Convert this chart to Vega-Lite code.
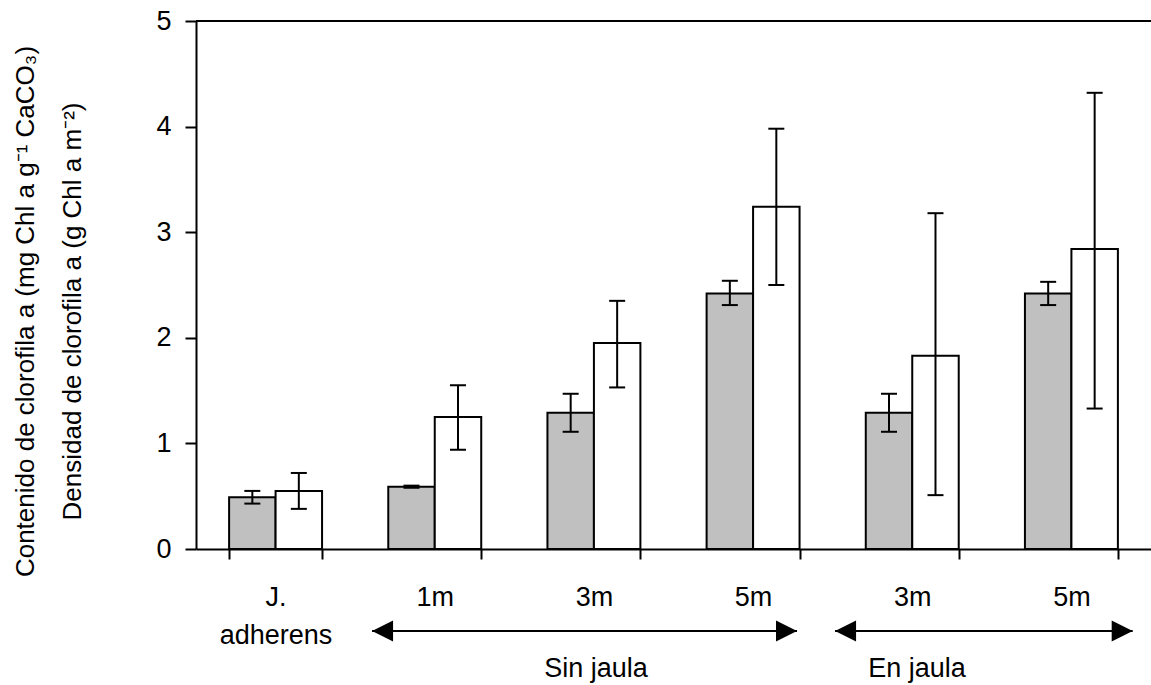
{
  "$schema": "https://vega.github.io/schema/vega-lite/v6.json",
  "width": 955,
  "height": 528,
  "autosize": {"type": "none"},
  "padding": {"left": 196, "top": 21, "right": 0, "bottom": 136},
  "config": {"font": "Liberation Sans", "view": {"stroke": null}},
  "datasets": {
    "barras": [
      {"grupo": "J. adherens", "serie": "Contenido", "valor": 0.49, "lo": 0.43, "hi": 0.55},
      {"grupo": "J. adherens", "serie": "Densidad", "valor": 0.55, "lo": 0.38, "hi": 0.72},
      {"grupo": "Sin jaula 1m", "serie": "Contenido", "valor": 0.59, "lo": 0.58, "hi": 0.60},
      {"grupo": "Sin jaula 1m", "serie": "Densidad", "valor": 1.25, "lo": 0.94, "hi": 1.55},
      {"grupo": "Sin jaula 3m", "serie": "Contenido", "valor": 1.29, "lo": 1.11, "hi": 1.47},
      {"grupo": "Sin jaula 3m", "serie": "Densidad", "valor": 1.95, "lo": 1.53, "hi": 2.35},
      {"grupo": "Sin jaula 5m", "serie": "Contenido", "valor": 2.42, "lo": 2.31, "hi": 2.54},
      {"grupo": "Sin jaula 5m", "serie": "Densidad", "valor": 3.24, "lo": 2.50, "hi": 3.98},
      {"grupo": "En jaula 3m", "serie": "Contenido", "valor": 1.29, "lo": 1.11, "hi": 1.47},
      {"grupo": "En jaula 3m", "serie": "Densidad", "valor": 1.83, "lo": 0.51, "hi": 3.18},
      {"grupo": "En jaula 5m", "serie": "Contenido", "valor": 2.42, "lo": 2.31, "hi": 2.53},
      {"grupo": "En jaula 5m", "serie": "Densidad", "valor": 2.84, "lo": 1.33, "hi": 4.32}
    ],
    "flechas": [
      {"tratamiento": "Sin jaula", "desde": 1.106, "hasta": 3.776, "nivel": -0.777, "centro": 2.513, "nivelTexto": -1.215},
      {"tratamiento": "En jaula", "desde": 4.015, "hasta": 5.885, "nivel": -0.777, "centro": 4.53, "nivelTexto": -1.215}
    ]
  },
  "layer": [
    {
      "data": {"name": "barras"},
      "encoding": {
        "x": {
          "field": "grupo",
          "type": "nominal",
          "sort": null,
          "scale": {
            "domain": ["J. adherens", "Sin jaula 1m", "Sin jaula 3m", "Sin jaula 5m", "En jaula 3m", "En jaula 5m"],
            "paddingInner": 0.416,
            "paddingOuter": 0.208
          },
          "axis": {
            "title": null,
            "labelAngle": 0,
            "labelExpr": "datum.label == 'J. adherens' ? ['J.', 'adherens'] : slice(datum.label, -2)",
            "labelFontSize": 27,
            "labelColor": "black",
            "labelBaseline": "alphabetic",
            "labelLineHeight": 38,
            "labelPadding": 46,
            "tickBand": "extent",
            "tickSize": 10,
            "tickWidth": 2,
            "tickColor": "black",
            "domainColor": "black",
            "domainWidth": 2
          }
        },
        "y": {
          "type": "quantitative",
          "scale": {"domain": [0, 5], "nice": false, "zero": false},
          "axis": {
            "values": [0, 1, 2, 3, 4, 5],
            "grid": false,
            "labelFontSize": 27,
            "labelColor": "black",
            "labelPadding": 14,
            "tickSize": 11,
            "tickWidth": 2,
            "tickColor": "black",
            "domainColor": "black",
            "domainWidth": 2,
            "title": ["Contenido de clorofila a (mg Chl a g⁻¹ CaCO₃)", "Densidad de clorofila a (g Chl a m⁻²)"],
            "titleFontSize": 26,
            "titleFontWeight": "normal",
            "titleColor": "black",
            "titleAngle": -90,
            "titleAlign": "center",
            "titleBaseline": "alphabetic",
            "titleLineHeight": 47,
            "titleX": -163,
            "titleY": 290
          }
        }
      },
      "layer": [
        {
          "mark": {"type": "bar", "stroke": "black", "strokeWidth": 2},
          "encoding": {
            "y": {"field": "valor", "type": "quantitative"},
            "xOffset": {"field": "serie", "type": "nominal", "scale": {"domain": ["Contenido", "Densidad"], "paddingInner": 0, "paddingOuter": 0}},
            "color": {"field": "serie", "type": "nominal", "scale": {"domain": ["Contenido", "Densidad"], "range": ["#C0C0C0", "#FFFFFF"]}, "legend": null}
          }
        },
        {
          "mark": {"type": "rule", "color": "black", "strokeWidth": 2},
          "encoding": {
            "y": {"field": "lo", "type": "quantitative"},
            "y2": {"field": "hi"},
            "xOffset": {"field": "serie", "type": "nominal", "scale": {"domain": ["Contenido", "Densidad"], "paddingInner": 0, "paddingOuter": 0}}
          }
        },
        {
          "mark": {"type": "tick", "orient": "horizontal", "color": "black", "size": 16, "thickness": 2, "opacity": 1},
          "encoding": {
            "y": {"field": "lo", "type": "quantitative"},
            "xOffset": {"field": "serie", "type": "nominal", "scale": {"domain": ["Contenido", "Densidad"], "paddingInner": 0, "paddingOuter": 0}}
          }
        },
        {
          "mark": {"type": "tick", "orient": "horizontal", "color": "black", "size": 16, "thickness": 2, "opacity": 1},
          "encoding": {
            "y": {"field": "hi", "type": "quantitative"},
            "xOffset": {"field": "serie", "type": "nominal", "scale": {"domain": ["Contenido", "Densidad"], "paddingInner": 0, "paddingOuter": 0}}
          }
        },
        {
          "mark": {"type": "rule", "color": "black", "strokeWidth": 2},
          "encoding": {"x": {"value": 0}, "x2": {"value": 955}, "y": {"datum": 5}}
        }
      ]
    },
    {
      "data": {"name": "flechas"},
      "encoding": {
        "y": {"type": "quantitative", "scale": {"domain": [0, 5], "nice": false, "zero": false}, "axis": null}
      },
      "layer": [
        {
          "mark": {"type": "rule", "color": "black", "strokeWidth": 2},
          "encoding": {
            "x": {"field": "desde", "type": "quantitative", "scale": {"domain": [0, 6], "nice": false, "zero": false}, "axis": null},
            "x2": {"field": "hasta"},
            "y": {"field": "nivel", "type": "quantitative"}
          }
        },
        {
          "mark": {"type": "point", "shape": "M0,0L2,-1L2,1Z", "filled": true, "fill": "black", "strokeWidth": 0, "size": 441, "opacity": 1},
          "encoding": {
            "x": {"field": "desde", "type": "quantitative", "scale": {"domain": [0, 6], "nice": false, "zero": false}, "axis": null},
            "y": {"field": "nivel", "type": "quantitative"}
          }
        },
        {
          "mark": {"type": "point", "shape": "M0,0L-2,-1L-2,1Z", "filled": true, "fill": "black", "strokeWidth": 0, "size": 441, "opacity": 1},
          "encoding": {
            "x": {"field": "hasta", "type": "quantitative", "scale": {"domain": [0, 6], "nice": false, "zero": false}, "axis": null},
            "y": {"field": "nivel", "type": "quantitative"}
          }
        },
        {
          "mark": {"type": "text", "fontSize": 27, "color": "black", "align": "center", "baseline": "alphabetic"},
          "encoding": {
            "x": {"field": "centro", "type": "quantitative", "scale": {"domain": [0, 6], "nice": false, "zero": false}, "axis": null},
            "y": {"field": "nivelTexto", "type": "quantitative"},
            "text": {"field": "tratamiento"}
          }
        }
      ]
    }
  ],
  "resolve": {"scale": {"x": "independent", "y": "independent"}}
}
